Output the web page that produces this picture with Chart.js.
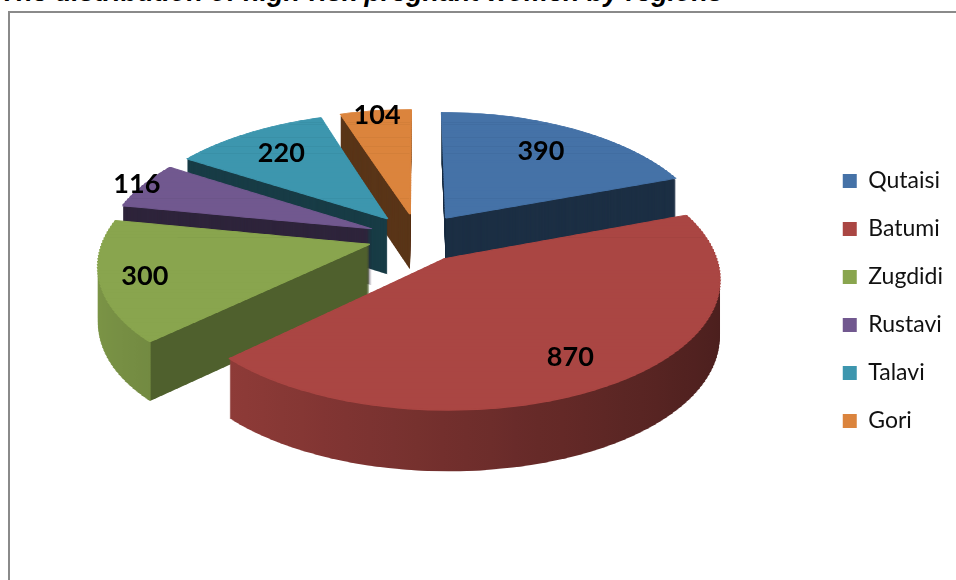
<!DOCTYPE html>
<html>
<head>
<meta charset="utf-8">
<script src="https://cdn.jsdelivr.net/npm/chart.js@4/dist/chart.umd.min.js"></script>
<style>
  html, body { margin: 0; padding: 0; background: #fff; overflow: hidden; }
  #wrap { position: relative; width: 956px; height: 580px; overflow: hidden; }
  #frame { position: absolute; left: 8px; top: 11px; width: 1000px; height: 700px;
           border: 2px solid #8a8a8a; box-sizing: border-box; }
  #title { position: absolute; left: 0; top: -23px; line-height: 30px; white-space: nowrap;
           font: italic bold 26.9px "Liberation Sans", Arial, sans-serif; color: #000; }
  #chart { position: absolute; left: 0; top: 0; }
</style>
</head>
<body>
<div id="wrap">
  <div id="frame"></div>
  <div id="title">The distribution of high-risk pregnant women by regions</div>
  <canvas id="chart" width="956" height="580"></canvas>
</div>
<script>
// Regions and number of high-risk pregnant women
const regions = ['Qutaisi', 'Batumi', 'Zugdidi', 'Rustavi', 'Talavi', 'Gori'];
const women = [390, 870, 300, 116, 220, 104];
const sliceColors = ['#4572A7', '#AA4643', '#89A54E', '#71588F', '#3D96AE', '#DB843D'];

function toRgb(hex) {
  const n = parseInt(hex.slice(1), 16);
  return [(n >> 16) & 255, (n >> 8) & 255, n & 255];
}
function shade(rgb, f) {
  return 'rgb(' + rgb.map(v => Math.round(Math.min(255, v * f))).join(',') + ')';
}

// Tilted, exploded pie. The disk is seen in perspective: a point (X, Y) of the
// disk plane (Y towards the viewer) lands at
//   x = X * (1 + perspX * Y / r),  y = tilt * Y * (1 + perspY * Y / r).
// Each arc element is drawn in thin horizontal bands, each band with its own
// affine approximation of that projection; stacked darker copies form the walls.
const pie3d = {
  id: 'pie3d',
  beforeDatasetsDraw(chart, args, o) {
    const ctx = chart.ctx;
    const arcs = chart.getDatasetMeta(0).data;
    const values = chart.data.datasets[0].data;

    const project = (X, Y, r) => [X * (1 + o.perspX * Y / r), o.tilt * Y * (1 + o.perspY * Y / r)];

    const slices = arcs.map(a => {
      const r = a.outerRadius;
      const mid = (a.startAngle + a.endAngle) / 2;
      const ux = Math.cos(mid), uy = Math.sin(mid);
      const ex = o.explode * ux, ey = o.explode * uy;
      let lo = Math.min(0, Math.sin(a.startAngle), Math.sin(a.endAngle));
      let hi = Math.max(0, Math.sin(a.startAngle), Math.sin(a.endAngle));
      for (const t of [-Math.PI / 2, Math.PI / 2, 3 * Math.PI / 2]) {
        if (t > a.startAngle && t < a.endAngle) { lo = Math.min(lo, Math.sin(t)); hi = Math.max(hi, Math.sin(t)); }
      }
      const step = o.band, bands = [];
      const Ymin = ey + lo * r, Ymax = ey + hi * r;
      for (let j = Math.floor(Ymin / step); j * step < Ymax; j++) {
        const Y0 = j * step, Yb = Y0 + step / 2;
        const hx = 1 + o.perspX * Yb / r;
        const vy = o.tilt * (1 + 2 * o.perspY * Yb / r);
        const yb = o.tilt * Yb * (1 + o.perspY * Yb / r);
        bands.push({
          hx, vy,
          ox: a.x + hx * ex - hx * a.x,
          oy: a.y + yb + vy * (ey - Yb) - vy * a.y,
          top: a.y + Y0 - ey - 0.75,
          h: step + 1.5,
          depth: o.depth * (1 + o.depthPersp * Yb / r)
        });
      }
      return { mid, ux, uy, ex, ey, front: uy, bands };
    });

    const drawBand = (a, b, el, z) => {
      ctx.save();
      ctx.translate(0, z);
      ctx.transform(b.hx, 0, 0, b.vy, b.ox, b.oy);
      ctx.beginPath();
      ctx.rect(a.x - 2 * a.outerRadius, b.top, 4 * a.outerRadius, b.h);
      ctx.clip();
      el.draw(ctx);
      ctx.restore();
    };

    const wallFill = (a, i) => {
      const base = toRgb(a.options.backgroundColor);
      const face = shade(base, o.faceShade[i]);
      const lo = Math.max(a.startAngle, 0), hi = Math.min(a.endAngle, Math.PI);
      if (hi <= lo) return face;
      const r = a.outerRadius, x0 = a.x - r, x1 = a.x + r;
      const pos = t => (a.x + r * Math.cos(t) - x0) / (x1 - x0);
      const rim = t => shade(base, o.rimDark + (o.rimLight - o.rimDark) * (1 - Math.cos(t)) / 2);
      const grad = ctx.createLinearGradient(x0, 0, x1, 0);
      const N = 30;
      for (let k = 0; k <= N; k++) {
        const t = hi - (hi - lo) * k / N;
        grad.addColorStop(Math.min(1, Math.max(0, pos(t))), rim(t));
      }
      if (lo > Math.PI / 2) grad.addColorStop(Math.min(1, pos(lo) + 0.002), face);
      if (hi < Math.PI / 2) grad.addColorStop(Math.max(0, pos(hi) - 0.002), face);
      return grad;
    };

    const order = arcs.map((a, i) => i).sort((i, j) => slices[i].front - slices[j].front);

    // walls, back to front
    for (const i of order) {
      const a = arcs[i];
      const wall = Object.create(a);
      wall.options = Object.assign({}, a.options, { backgroundColor: wallFill(a, i), borderWidth: 0, offset: 0 });
      for (const b of slices[i].bands) {
        for (let z = b.depth; z >= 1; z -= 1) drawBand(a, b, wall, z);
      }
    }
    // top faces; a same-colour outline hides the wall fringe along the edges
    for (const i of order) {
      const a = arcs[i];
      const top = Object.create(a);
      top.options = Object.assign({}, a.options, { borderColor: a.options.backgroundColor, borderWidth: o.topOutline, offset: 0 });
      for (const b of slices[i].bands) drawBand(a, b, top, 0);
    }
    // value labels
    ctx.save();
    ctx.font = o.labelFont;
    ctx.fillStyle = '#000';
    ctx.textAlign = 'center';
    ctx.textBaseline = 'middle';
    arcs.forEach((a, i) => {
      const s = slices[i], r = a.outerRadius, f = o.labelRadius[i] * r;
      const [px, py] = project(s.ex + f * s.ux, s.ey + f * s.uy, r);
      ctx.fillText(String(values[i]), a.x + px, a.y + py);
    });
    ctx.restore();
    return false;
  }
};

new Chart(document.getElementById('chart'), {
  type: 'pie',
  data: {
    labels: regions,
    datasets: [{
      data: women,
      backgroundColor: sliceColors,
      borderWidth: 0,
      radius: 265,
      clip: false
    }]
  },
  options: {
    responsive: false,
    animation: false,
    events: [],
    layout: { padding: { left: 18, right: 3, top: 17.5, bottom: 122.5 } },
    plugins: {
      title: { display: false },
      tooltip: { enabled: false },
      legend: {
        position: 'right',
        align: 'end',
        labels: {
          boxWidth: 14,
          boxHeight: 14,
          padding: 25,
          color: '#111',
          font: { family: 'Lato', size: 23 }
        }
      },
      pie3d: {
        tilt: 0.485,
        perspX: 0.15,
        perspY: 0.135,
        explode: 50,
        depth: 56,
        depthPersp: 0.08,
        band: 6,
        topOutline: 2,
        faceShade: [0.41, 0.41, 0.58, 0.41, 0.40, 0.41],
        rimLight: 0.9,
        rimDark: 0.44,
        labelRadius: [0.72, 0.79, 0.84, 1.03, 0.74, 0.95],
        labelFont: 'bold 27px Lato'
      }
    }
  },
  plugins: [pie3d]
});
</script>
</body>
</html>
